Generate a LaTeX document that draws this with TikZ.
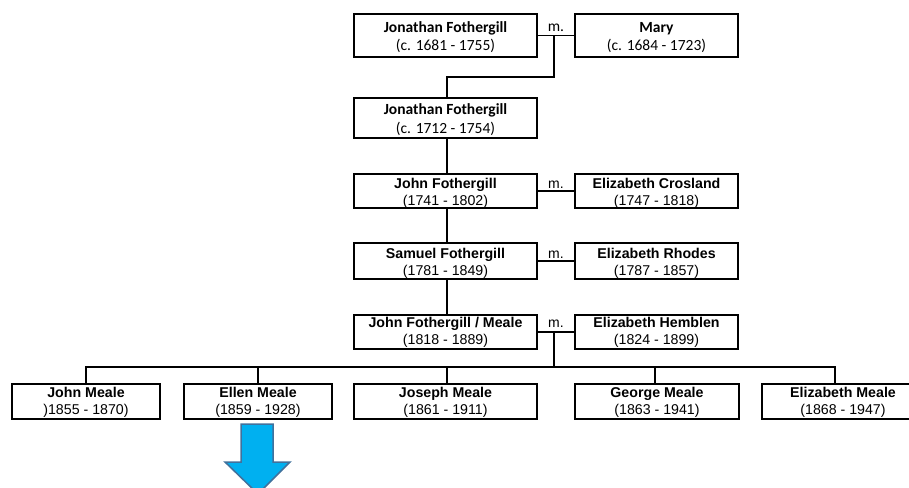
\documentclass[tikz,border=0pt]{standalone}
\usepackage{fontspec}
\setmainfont{Liberation Sans}
\newfontfamily\calib{Carlito}
\definecolor{arrowfill}{RGB}{0,176,240}
\definecolor{arrowline}{RGB}{65,113,156}
\newcommand\gapA{\rule{0pt}{14pt}}
\newcommand\gapB{\rule{0pt}{11.5pt}}
\newcommand\gapC{\rule{0pt}{14.4pt}}
\begin{document}
\begin{tikzpicture}[x=1pt,y=-1pt,
  personbox/.style={draw=black, line width=1.6pt, fill=white, inner sep=0pt, outer sep=0pt,
    align=center, font=\fontsize{14.2}{17}\selectfont},
  calibox/.style={personbox, font=\calib\fontsize{15.5}{18.5}\selectfont},
  link/.style={draw=black, line width=1.6pt},
  mlabel/.style={anchor=base, inner sep=0pt, font=\fontsize{14}{17}\selectfont},
  calilabel/.style={mlabel, font=\calib\fontsize{15.5}{19}\selectfont}]
\useasboundingbox (0,0) rectangle (909,487);
% generation 1
\node[calibox, minimum width=183pt, minimum height=43pt] (j1) at (445.5,35.5) {\gapC\textbf{Jonathan Fothergill}\\(c. 1681 - 1755)};
\node[calibox, minimum width=163pt, minimum height=43pt] (mary) at (656.5,35.5) {\gapC\textbf{Mary}\\(c. 1684 - 1723)};
\node[calilabel] (m1) at (556,32) {m.};
\draw[link] (j1.east) -- (mary.west);
\coordinate (c1) at (554,35.5);
\coordinate (c1b) at (554,77);
% generation 2
\node[calibox, minimum width=183pt, minimum height=40pt] (j2) at (445.5,118) {\gapC\textbf{Jonathan Fothergill}\\(c. 1712 - 1754)};
\draw[link] (c1) -- (c1b) -| ([xshift=1.5pt]j2.north);
% generation 3
\node[personbox, minimum width=183pt, minimum height=34pt] (jf) at (445.5,191) {\gapA\textbf{John Fothergill}\\(1741 - 1802)};
\node[personbox, minimum width=163pt, minimum height=34pt] (ec) at (656.5,191) {\gapA\textbf{Elizabeth Crosland}\\(1747 - 1818)};
\node[mlabel] (m3) at (556,188) {m.};
\draw[link] (jf.east) -- (ec.west);
\draw[link] ([xshift=1.5pt]j2.south) -- ([xshift=1.5pt]jf.north);
% generation 4
\node[personbox, minimum width=183pt, minimum height=36pt] (sf) at (445.5,261) {\gapA\textbf{Samuel Fothergill}\\(1781 - 1849)};
\node[personbox, minimum width=163pt, minimum height=36pt] (er) at (656.5,261) {\gapA\textbf{Elizabeth Rhodes}\\(1787 - 1857)};
\node[mlabel] (m4) at (556,258) {m.};
\draw[link] (sf.east) -- (er.west);
\draw[link] ([xshift=1.5pt]jf.south) -- ([xshift=1.5pt]sf.north);
% generation 5
\node[personbox, minimum width=183pt, minimum height=34pt] (jm) at (445.5,332) {\gapB\textbf{John Fothergill / Meale}\\(1818 - 1889)};
\node[personbox, minimum width=163pt, minimum height=34pt] (eh) at (656.5,332) {\gapB\textbf{Elizabeth Hemblen}\\(1824 - 1899)};
\node[mlabel] (m5) at (556,327) {m.};
\draw[link] (jm.east) -- (eh.west);
\draw[link] ([xshift=1.5pt]sf.south) -- ([xshift=1.5pt]jm.north);
\coordinate (c5) at (554,332);
\coordinate (c5b) at (554,367);
% children
\node[personbox, minimum width=148pt, minimum height=35pt] (k1) at (86,401.5) {\gapB\textbf{John Meale}\\)1855 - 1870)};
\node[personbox, minimum width=148pt, minimum height=35pt] (k2) at (258,401.5) {\gapB\textbf{Ellen Meale}\\(1859 - 1928)};
\node[personbox, minimum width=183pt, minimum height=35pt] (k3) at (445.5,401.5) {\gapB\textbf{Joseph Meale}\\(1861 - 1911)};
\node[personbox, minimum width=164pt, minimum height=35pt] (k4) at (657,401.5) {\gapB\textbf{George Meale}\\(1863 - 1941)};
\node[personbox, minimum width=162pt, minimum height=35pt] (k5) at (843,401.5) {\gapB\textbf{Elizabeth Meale}\\(1868 - 1947)};
\draw[link] (c5) -- (c5b);
\draw[link] (k1.north) |- (c5b) -| ([xshift=-8pt]k5.north);
\draw[link] (k2.north) -- (k2.north |- c5b);
\draw[link] ([xshift=1.5pt]k3.north) -- ([xshift=1.5pt]k3.north |- c5b);
\draw[link] ([xshift=-2pt]k4.north) -- ([xshift=-2pt]k4.north |- c5b);
% arrow
\draw[arrowline, fill=arrowfill, line width=1.5pt, line join=miter]
  (241,424) -- (273,424) -- (273,462) -- (290,462) -- (258,494) -- (225,462) -- (241,462) -- cycle;
\end{tikzpicture}
\end{document}
